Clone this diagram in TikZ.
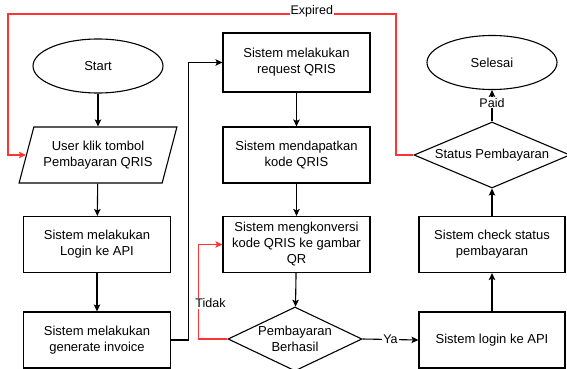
\documentclass[tikz,border=0pt]{standalone}
\usepackage{fontspec}
\setmainfont{Liberation Sans}
\usetikzlibrary{shapes.geometric,arrows.meta}
\definecolor{lred}{RGB}{255,51,51}
\tikzset{
  boxtxt/.style={font=\fontsize{13}{16}\selectfont, align=center},
  proc/.style={draw, rectangle, boxtxt, minimum width=147pt, minimum height=56pt, inner sep=2pt},
  term/.style={draw, ellipse, boxtxt, minimum width=130pt, minimum height=54pt},
  inout/.style={draw, trapezium, boxtxt, trapezium left angle=67, trapezium right angle=113,
    trapezium stretches=true, minimum width=158pt, minimum height=56pt, inner sep=1pt},
  dec/.style={draw, diamond, boxtxt, inner sep=0pt},
  flow/.style={-{Stealth[length=7pt,width=6.5pt,inset=1.5pt]}, line width=1.1pt},
  lbl/.style={fill=white, inner sep=1pt, font=\fontsize{12.5}{14}\selectfont}
}
\begin{document}
\begin{tikzpicture}[x=1pt,y=-1pt,line width=1.1pt]
\useasboundingbox (0,0) rectangle (567,369);
\node[term] (start) at (98,66){Start};
\node[inout] (klik) at (98,155){User klik tombol\\Pembayaran QRIS};
\node[proc] (loginapi) at (97,244.5){Sistem melakukan\\Login ke API};
\node[proc] (invoice) at (97,340){Sistem melakukan\\generate invoice};
\node[proc, minimum height=59pt] (request) at (296.5,62.5){Sistem melakukan\\request QRIS};
\node[proc] (dapat) at (296.5,155){Sistem mendapatkan\\kode QRIS};
\node[proc] (konversi) at (296.5,244.5){Sistem mengkonversi\\kode QRIS ke gambar\\QR};
\node[dec, aspect=2.1, minimum width=134pt, minimum height=64pt] (berhasil) at (295,339){Pembayaran\\Berhasil};
\node[proc, minimum width=146pt] (loginke) at (492,340){Sistem login ke API};
\node[proc, minimum width=146pt] (cek) at (492,244.5){Sistem check status\\pembayaran};
\node[dec, aspect=2.36, minimum width=156pt, minimum height=66pt] (status) at (492,155){Status Pembayaran};
\node[term] (selesai) at (492,62.5){Selesai};
\coordinate (exp1) at (396,14);
\coordinate (exp2) at (8,14);
% alur utama
\draw[flow] (start) -- (klik);
\draw[flow] (klik) -- (loginapi);
\draw[flow] (loginapi) -- (invoice);
\draw[flow] (invoice.east) -- ++(17,0) |- (request.west);
\draw[flow] (request) -- (dapat);
\draw[flow] (dapat) -- (konversi);
\draw[flow] (konversi) -- (berhasil);
\draw[flow] (berhasil.east) -- node[lbl]{Ya} (loginke.west);
\draw[flow] (loginke) -- (cek);
\draw[flow] (cek) -- (status);
\draw[flow] (status.north) -- node[lbl, pos=0.6]{Paid} (selesai.south);
% alur gagal
\draw[flow, lred] (berhasil.west) -- ++(-29,0) |- node[lbl, text=black, pos=0.19, xshift=12pt]{Tidak} (konversi.west);
\draw[flow, lred] (status.west) -| (exp1) -- node[lbl, text=black, pos=0.217, yshift=3pt]{Expired} (exp2) |- (klik.west);
\end{tikzpicture}
\end{document}
